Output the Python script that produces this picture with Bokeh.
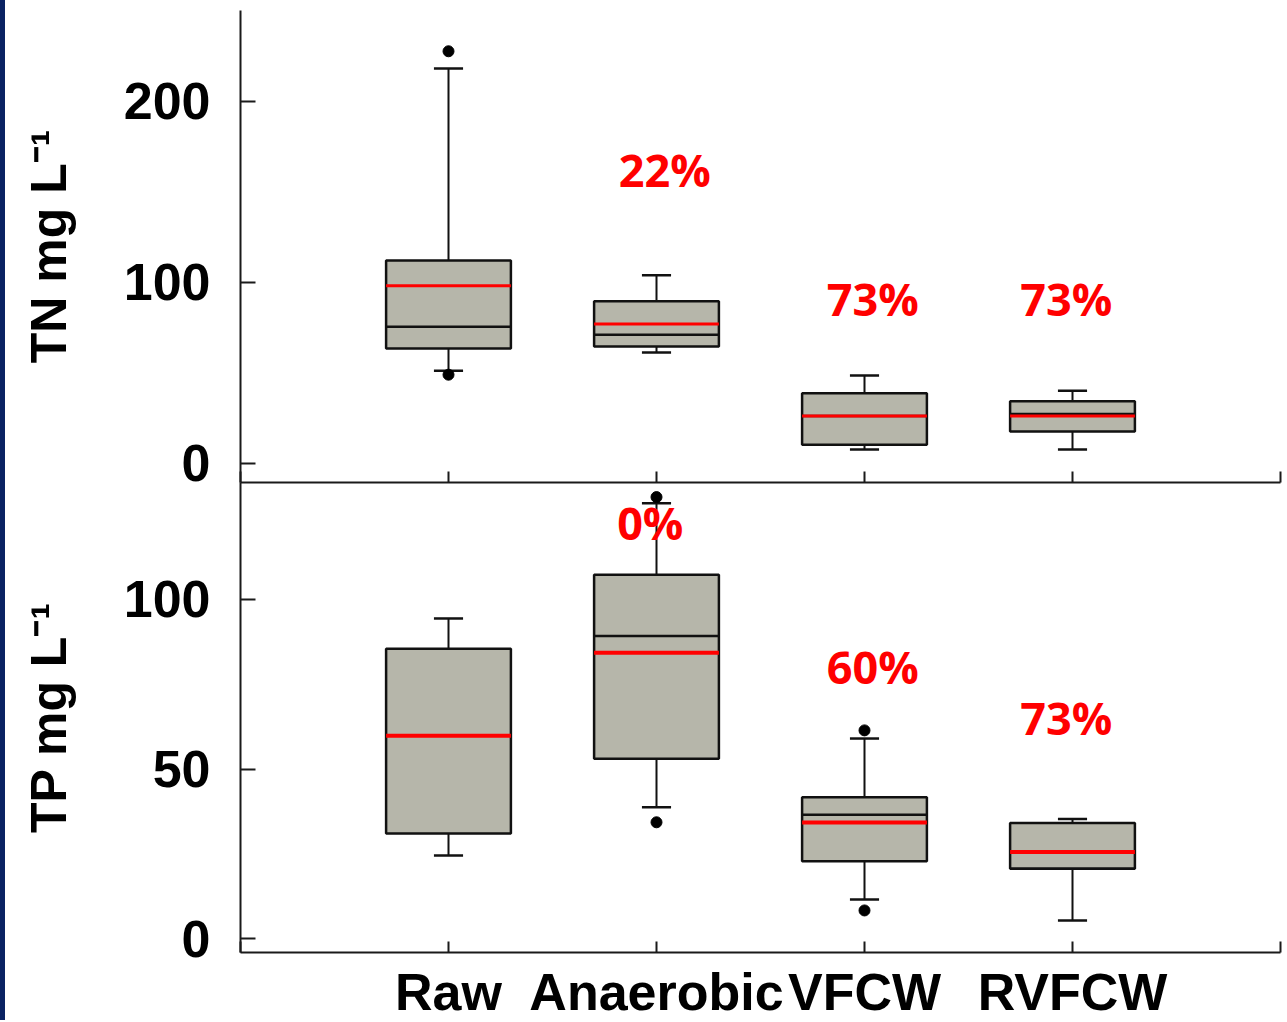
import numpy as np
from bokeh.plotting import figure
from bokeh.layouts import column, row
from bokeh.models import ColumnDataSource, FixedTicker, Range1d, Div
from bokeh.core.properties import value
from bokeh.embed import file_html
from bokeh.resources import INLINE

# ---------------- data ----------------
categories = ["Raw", "Anaerobic", "VFCW", "RVFCW"]
cat_pos = [1, 2, 3, 4]

# TN (mg/L)
tn_q1 = [63.4, 64.5, 10.3, 17.7]
tn_q3 = [112.0, 89.5, 38.7, 34.3]
tn_median = [75.5, 71.0, 26.2, 27.3]
tn_mean = [98.1, 77.0, 26.2, 26.2]
tn_whisk_lo = [51.2, 61.3, 7.7, 7.7]
tn_whisk_hi = [218.0, 103.9, 48.6, 40.2]
tn_out_cat = [1, 1]
tn_out_val = [227.5, 49.0]
tn_pct_text = ["22%", "73%", "73%"]
tn_pct_x = [2.04, 3.04, 3.97]
tn_pct_y = [162.0, 91.3, 91.3]

# TP (mg/L)
tp_q1 = [31.0, 53.0, 22.8, 20.6]
tp_q3 = [85.5, 107.3, 41.7, 34.1]
tp_median = [59.8, 89.2, 36.5, 20.6]
tp_mean = [59.8, 84.3, 34.2, 25.5]
tp_whisk_lo = [24.5, 38.7, 11.5, 5.3]
tp_whisk_hi = [94.4, 128.4, 59.0, 35.3]
tp_out_cat = [2, 2, 3, 3]
tp_out_val = [130.2, 34.3, 61.4, 8.3]
tp_pct_text = ["0%", "60%", "73%"]
tp_pct_x = [1.97, 3.04, 3.97]
tp_pct_y = [122.6, 80.2, 65.2]

tn_ticks = [0, 100, 200]
tp_ticks = [0, 50, 100]
x_ticks = [0, 1, 2, 3, 4, 5]

# ---------------- style ----------------
BOX_W = 0.6
CAP_W = 0.14
BOX_FILL = "#b6b6aa"
LINE = "#111111"
AXIS_FONT = "Liberation Sans"
STRIP = 5
LEFT = 240 - STRIP
FRAME_W = 1040
OVERLAP = 30


def style_axes(p, yticks, ylabel):
    p.xgrid.visible = False
    p.ygrid.visible = False
    p.outline_line_color = None
    for ax in (p.xaxis[0], p.yaxis[0]):
        ax.axis_line_width = 2
        ax.axis_line_color = "#1a1a1a"
        ax.major_tick_line_width = 2
        ax.major_tick_line_color = "#1a1a1a"
        ax.minor_tick_line_color = None
        ax.major_tick_out = 0
        ax.major_label_text_font = AXIS_FONT
        ax.major_label_text_font_style = "bold"
        ax.major_label_text_color = "black"
    yax = p.yaxis[0]
    yax.ticker = FixedTicker(ticks=yticks)
    yax.major_tick_in = 15
    yax.major_label_standoff = 30
    yax.major_label_text_font_size = "52px"
    yax.axis_label = ylabel
    yax.axis_label_text_font = AXIS_FONT
    yax.axis_label_text_font_style = "bold"
    yax.axis_label_text_font_size = "50px"
    yax.axis_label_text_color = "black"
    yax.axis_label_standoff = 44
    xax = p.xaxis[0]
    xax.ticker = FixedTicker(ticks=x_ticks)
    xax.major_tick_in = 11


def draw_boxes(p, q1, q3, med, mean, wlo, whi, out_cat, out_val, pct_text, pct_x, pct_y, mean_w):
    x = np.array(cat_pos, dtype=float)
    src = ColumnDataSource(dict(
        x=x, x0=x - BOX_W / 2, x1=x + BOX_W / 2, c0=x - CAP_W / 2, c1=x + CAP_W / 2,
        q1=q1, q3=q3, med=med, mean=mean, wlo=wlo, whi=whi,
    ))
    # whiskers
    p.segment(x0="x", y0="q3", x1="x", y1="whi", source=src, line_color=LINE, line_width=2)
    p.segment(x0="x", y0="q1", x1="x", y1="wlo", source=src, line_color=LINE, line_width=2)
    p.segment(x0="c0", y0="whi", x1="c1", y1="whi", source=src, line_color=LINE, line_width=2.5)
    p.segment(x0="c0", y0="wlo", x1="c1", y1="wlo", source=src, line_color=LINE, line_width=2.5)
    # boxes
    p.vbar(x="x", width=BOX_W, bottom="q1", top="q3", source=src,
           fill_color=BOX_FILL, line_color=LINE, line_width=2.5)
    # median (black) and mean (red)
    p.segment(x0="x0", y0="med", x1="x1", y1="med", source=src, line_color=LINE, line_width=2.5)
    p.segment(x0="x0", y0="mean", x1="x1", y1="mean", source=src, line_color="#ff0000", line_width=mean_w)
    # outliers
    p.scatter(x=out_cat, y=out_val, size=11, marker="circle", fill_color="black", line_color="black")
    # percentages
    tsrc = ColumnDataSource(dict(x=pct_x, y=pct_y, t=pct_text))
    p.text(x="x", y="y", text="t", source=tsrc, text_font=value("Open Sans"),
           text_font_style="bold", text_font_size="45px", text_color="#ff0000",
           text_align="center", text_baseline="middle")


# ---------------- top panel (TN) ----------------
p1 = figure(frame_width=FRAME_W, frame_height=472, x_range=Range1d(0, 5), y_range=Range1d(-10.5, 250),
            output_backend="svg", toolbar_location=None,
            min_border_left=LEFT, min_border_right=2, min_border_top=10, min_border_bottom=OVERLAP)
p1.background_fill_color = "white"
p1.border_fill_color = "white"
style_axes(p1, tn_ticks, "TN mg L\u207b\u00b9")
# the top panel's x axis carries ticks only (labels are not painted)
p1.xaxis[0].major_label_text_color = None
p1.xaxis[0].major_label_text_font_size = "10px"
p1.xaxis[0].major_label_standoff = 0
draw_boxes(p1, tn_q1, tn_q3, tn_median, tn_mean, tn_whisk_lo, tn_whisk_hi,
           tn_out_cat, tn_out_val, tn_pct_text, tn_pct_x, tn_pct_y, 3)

# ---------------- bottom panel (TP) ----------------
p2 = figure(frame_width=FRAME_W, frame_height=470, x_range=p1.x_range, y_range=Range1d(-4.1, 134.5),
            output_backend="svg", toolbar_location=None,
            min_border_left=LEFT, min_border_right=2, min_border_top=0, min_border_bottom=0)
p2.background_fill_color = None
p2.border_fill_color = None
p2.margin = (-OVERLAP, 0, 0, 0)
style_axes(p2, tp_ticks, "TP mg L\u207b\u00b9")
p2.xaxis[0].major_label_text_font_size = "52px"
p2.xaxis[0].major_label_standoff = 10
p2.xaxis[0].major_label_overrides = {0: "", 1: categories[0], 2: categories[1],
                                     3: categories[2], 4: categories[3], 5: ""}
draw_boxes(p2, tp_q1, tp_q3, tp_median, tp_mean, tp_whisk_lo, tp_whisk_hi,
           tp_out_cat, tp_out_val, tp_pct_text, tp_pct_x, tp_pct_y, 4)

strip = Div(text="", width=STRIP, height=1020, margin=0,
            styles={"background-color": "#0a2263"})
layout = row(strip, column(p1, p2, spacing=0), spacing=0)
open("out.html", "w").write(file_html(layout, INLINE))
